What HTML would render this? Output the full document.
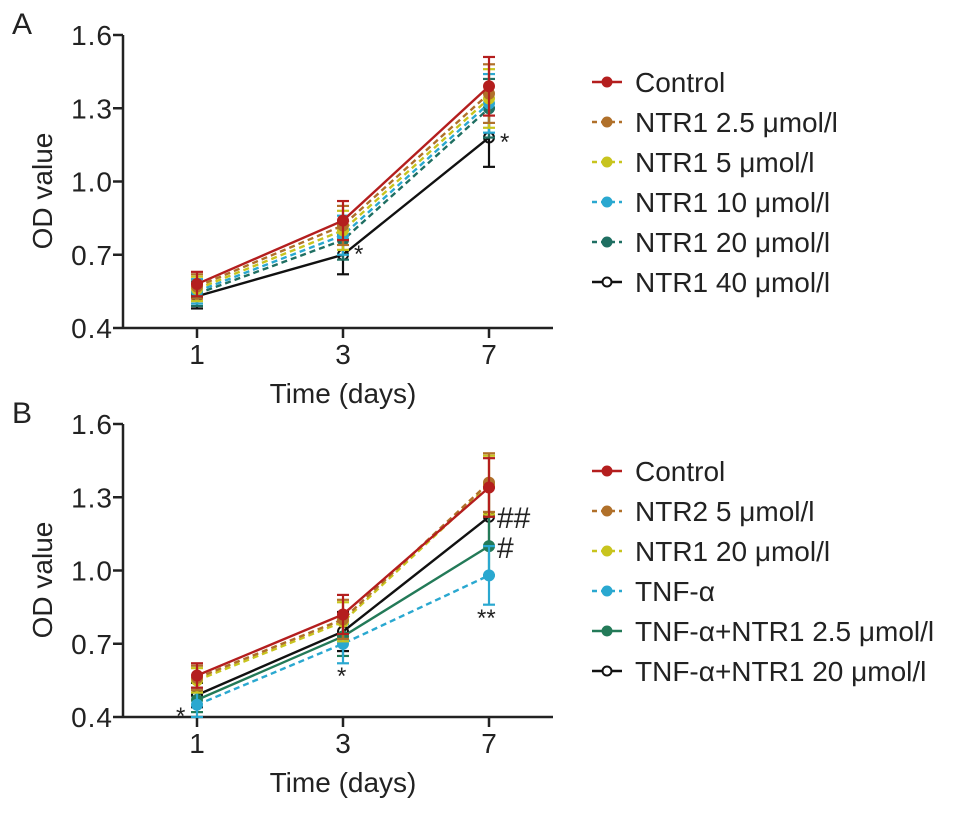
<!DOCTYPE html>
<html><head><meta charset="utf-8"><style>
body{margin:0;background:#fff}
svg text{font-family:"Liberation Sans",sans-serif;fill:#222}
</style></head><body>
<svg id="c" width="969" height="808" xmlns="http://www.w3.org/2000/svg"></svg>
<script>
const days=["1","3","7"];
const yTicks=[0.4,0.7,1.0,1.3,1.6];
const namesA=["Control","NTR1 2.5 μmol/l","NTR1 5 μmol/l","NTR1 10 μmol/l","NTR1 20 μmol/l","NTR1 40 μmol/l"];
const ctrlA=[0.58,0.84,1.39];
const n25A=[0.57,0.82,1.36];
const n5A=[0.56,0.80,1.34];
const n10A=[0.55,0.78,1.32];
const n20A=[0.54,0.76,1.30];
const n40A=[0.53,0.70,1.18];
const errA=[0.05,0.08,0.12];
const namesB=["Control","NTR2 5 μmol/l","NTR1 20 μmol/l","TNF-α","TNF-α+NTR1 2.5 μmol/l","TNF-α+NTR1 20 μmol/l"];
const ctrlB=[0.57,0.82,1.34];
const ntr2B=[0.56,0.80,1.36];
const ntr1B=[0.55,0.79,1.35];
const tnfB=[0.45,0.70,0.98];
const tnf25B=[0.47,0.73,1.10];
const tnf20B=[0.49,0.75,1.22];
const errB=[0.05,0.08,0.12];

const svg=document.getElementById('c');
const NS="http://www.w3.org/2000/svg";
function mk(t,a,p){const e=document.createElementNS(NS,t);for(const k in a)e.setAttribute(k,a[k]);(p||svg).appendChild(e);return e;}
const colors=["#b41e1e","#b0702a","#c8c41e","#2aa8d0","#1f6f62","#111"];
const dashes=[null,"6,4","6,4","6,4","6,4",null];
const colorsB=["#b41e1e","#b0702a","#c8c41e","#2aa8d0","#237a58","#111"];
const dashesB=[null,"6,4","6,4","6,4",null,null];
const FS=28;

function panel(top,letter,series,names,cols,dsh,err,notes){
  const g=mk('g',{});
  
  
  const x0=123,y0=top+293;
  const X=i=>[197,343,489][i];
  const Y=v=>y0-(v-0.4)/1.2*293;
  const L=mk('text',{x:12,y:top-1,'font-size':30},g);L.textContent=letter;
  
  mk('line',{x1:x0,y1:top,x2:x0,y2:y0,stroke:'#222','stroke-width':2.5},g);
  mk('line',{x1:x0,y1:y0,x2:553,y2:y0,stroke:'#222','stroke-width':2.5},g);
  yTicks.forEach(v=>{mk('line',{x1:x0-10,y1:Y(v),x2:x0,y2:Y(v),stroke:'#222','stroke-width':2.5},g);
    const t=mk('text',{x:x0-10,y:Y(v)+10,'font-size':FS,'text-anchor':'end','letter-spacing':1},g);t.textContent=v.toFixed(1);
    });
  days.forEach((d,i)=>{mk('line',{x1:X(i),y1:y0,x2:X(i),y2:y0+10,stroke:'#222','stroke-width':2.5},g);
    const t=mk('text',{x:X(i),y:y0+36,'font-size':FS,'text-anchor':'middle'},g);t.textContent=d;
    });
  const xt=mk('text',{x:343,y:y0+75,'font-size':FS,'text-anchor':'middle'},g);xt.textContent="Time (days)";
  
  const yt=mk('text',{x:52,y:top+156,'font-size':FS,'text-anchor':'middle',transform:`rotate(-90 52 ${top+156})`},g);yt.textContent="OD value";
  
  for(let s=series.length-1;s>=0;s--){
    const d=series[s];
    d.forEach((v,i)=>{mk('line',{x1:X(i),y1:Y(v+err[i]),x2:X(i),y2:Y(v-err[i]),stroke:cols[s],'stroke-width':2.2},g);
      mk('line',{x1:X(i)-6,y1:Y(v+err[i]),x2:X(i)+6,y2:Y(v+err[i]),stroke:cols[s],'stroke-width':2.2},g);
      mk('line',{x1:X(i)-6,y1:Y(v-err[i]),x2:X(i)+6,y2:Y(v-err[i]),stroke:cols[s],'stroke-width':2.2},g);});
    const p=mk('polyline',{points:d.map((v,i)=>X(i)+','+Y(v)).join(' '),fill:'none',stroke:cols[s],'stroke-width':2.4},g);
    if(dsh[s])p.setAttribute('stroke-dasharray',dsh[s]);
    
    d.forEach((v,i)=>{const c=mk('circle',{cx:X(i),cy:Y(v),r:5,fill:s==5?'none':cols[s],stroke:cols[s],'stroke-width':2},g);
      });
  }
  notes.forEach(n=>{const t=mk('text',{x:n[0],y:n[1],'font-size':n[3]||24},g);t.textContent=n[2];
    });
}
function legend(y,gap,names,cols,dsh){
  names.forEach((n,i)=>{const yy=y+i*gap;
    const g=mk('g',{});
    const l=mk('line',{x1:592,y1:yy,x2:622,y2:yy,stroke:cols[i],'stroke-width':2.4},g);
    if(dsh[i])l.setAttribute('stroke-dasharray','5,4');
    mk('circle',{cx:607,cy:yy,r:4.5,fill:i==5?'#fff':cols[i],stroke:cols[i],'stroke-width':2},g);
    const t=mk('text',{x:635,y:yy+10,'font-size':FS},g);t.textContent=n;});
}
panel(35,"A",[ctrlA,n25A,n5A,n10A,n20A,n40A],namesA,colors,dashes,errA,[[354,262,"*"],[500,150,"*"]]);
legend(82,40,namesA,colors,dashes);
panel(424,"B",[ctrlB,ntr2B,ntr1B,tnfB,tnf25B,tnf20B],namesB,colorsB,dashesB,errB,[[176,724,"*"],[337,684,"*"],[477,626,"**"],[497,528,"##",30],[497,558,"#",30]]);
legend(471,40,namesB,colorsB,dashesB);
</script>
</body></html>
